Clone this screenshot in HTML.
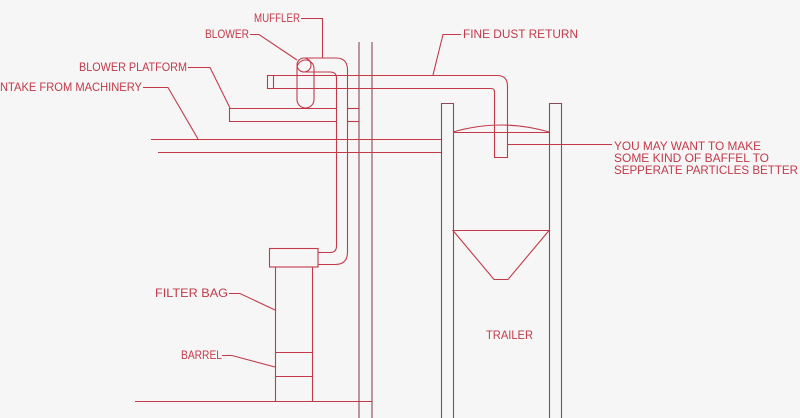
<!DOCTYPE html>
<html><head><meta charset="utf-8"><style>
html,body{margin:0;padding:0;background:#f6f6f6;}
svg{display:block}
text{font-family:"Liberation Sans",sans-serif;font-size:12px;fill:#c23a4a;}
</style></head><body>
<svg width="800" height="418" viewBox="0 0 800 418" xmlns="http://www.w3.org/2000/svg">
<g fill="none" stroke="#c23a4a" stroke-width="1.1">
<line x1="359" y1="42" x2="359" y2="418" stroke="#8a4a55"/>
<line x1="372" y1="42" x2="372" y2="418" stroke="#8a4a55"/>
<line x1="151" y1="139.5" x2="441" y2="139.5"/>
<line x1="158" y1="152.5" x2="441" y2="152.5"/>
<path d="M337 108.5 H229.5 V121.5 H337"/>
<line x1="347" y1="108.5" x2="359" y2="108.5"/>
<line x1="347" y1="121.5" x2="359" y2="121.5"/>
<path d="M267.5 75.5 H273.5 V88.5 H267.5 Z"/>
<path d="M273.5 75.5 H497 Q507.5 75.5 507.5 86 V157.5 H494.5 V92 Q494.5 88.5 491 88.5 H273.5"/>
<rect x="297" y="60" width="17" height="48" rx="8.5"/>
<circle cx="304" cy="65" r="7"/>
<path d="M304 58 H336 Q347.5 58 347.5 70 V252 Q347.5 264.5 335 264.5 H318"/>
<path d="M304 72 H330 Q336.5 72 336.5 78 V246 Q336.5 252.5 330 252.5 H318"/>
<rect x="269.5" y="248.5" width="48.5" height="18.5"/>
<path d="M275.5 267 V401 M312.5 267 V401"/>
<line x1="275.5" y1="352.5" x2="312.5" y2="352.5"/>
<line x1="275.5" y1="376.5" x2="312.5" y2="376.5"/>
<line x1="135" y1="401.5" x2="372" y2="401.5"/>
<path d="M441.5 418 V103.5 H453.5 V418" stroke="#8a4a55"/>
<path d="M549.5 418 V103.5 H561.5 V418" stroke="#8a4a55"/>
<line x1="453" y1="132.5" x2="549" y2="132.5"/>
<path d="M453 132 Q501 118 549 132"/>
<path d="M453 230.5 H549 L508 279.5 H494 Z"/>
<path d="M507 144.5 H612"/>
<path d="M301 18.5 H322.5 V58"/>
<path d="M250 34.5 H259 L297 60"/>
<path d="M188 67.5 H210 L230 108"/>
<path d="M143 87.5 H168 L198 139"/>
<path d="M461 34.5 H443 L433 75"/>
<path d="M229 293.5 H240 L275 310"/>
<path d="M222 355.5 H232 L275 367"/>
</g>
<text x="254" y="22" textLength="46" lengthAdjust="spacingAndGlyphs">MUFFLER</text>
<text x="205" y="38" textLength="44" lengthAdjust="spacingAndGlyphs">BLOWER</text>
<text x="79" y="71" textLength="108" lengthAdjust="spacingAndGlyphs">BLOWER PLATFORM</text>
<text x="0" y="91" textLength="142" lengthAdjust="spacingAndGlyphs">NTAKE FROM MACHINERY</text>
<text x="463" y="38" textLength="115" lengthAdjust="spacingAndGlyphs">FINE DUST RETURN</text>
<text x="614" y="150" textLength="147" lengthAdjust="spacingAndGlyphs">YOU MAY WANT TO MAKE</text>
<text x="614" y="162" textLength="155" lengthAdjust="spacingAndGlyphs">SOME KIND OF BAFFEL TO</text>
<text x="614" y="174" textLength="184" lengthAdjust="spacingAndGlyphs">SEPPERATE PARTICLES BETTER</text>
<text x="155" y="297" textLength="73" lengthAdjust="spacingAndGlyphs">FILTER BAG</text>
<text x="181" y="359" textLength="41" lengthAdjust="spacingAndGlyphs">BARREL</text>
<text x="486" y="339" textLength="47" lengthAdjust="spacingAndGlyphs">TRAILER</text>
</svg>
</body></html>
